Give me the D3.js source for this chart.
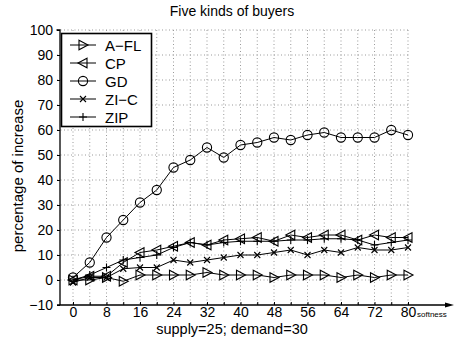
<!DOCTYPE html>
<html>
<head>
<meta charset="utf-8">
<script src="https://cdn.jsdelivr.net/npm/d3@7"></script>
<style>
  html, body { margin: 0; padding: 0; background: #fff; }
  svg { display: block; font-family: "Liberation Sans", Arial, sans-serif; }
</style>
</head>
<body>
<svg id="chart" width="454" height="343"></svg>
<script>
// Softness levels (x) and percentage of increase for each buyer type
const softness = [0, 4, 8, 12, 16, 20, 24, 28, 32, 36, 40, 44, 48, 52, 56, 60, 64, 68, 72, 76, 80];
const afl = [0, 0, 1, -0.5, 2, 2, 2, 2, 3, 2, 2, 2, 1, 2, 2, 2, 1, 2, 1, 2, 2];
const cp  = [0, 1.5, 1.5, 7, 11, 12, 13.5, 15, 14, 16, 16.5, 17, 15.5, 18, 17, 18, 18, 16, 18, 17, 17];
const gd  = [1, 7, 17, 24, 31, 36, 45, 48, 53, 49, 54, 55, 57, 56, 58, 59, 57, 57, 57, 60, 58];
const zic = [-1, 1, 1, 4.5, 5, 5, 8, 7, 8, 9, 10, 10, 11, 12, 10, 12, 11, 13, 12, 12, 13];
const zip = [0, 2, 5, 8, 9, 10, 13, 15, 14, 15, 15.5, 15.5, 15.5, 16, 16, 16.5, 16.5, 16, 14, 15, 16];

const seriesNames = ["A\u2212FL", "CP", "GD", "ZI\u2212C", "ZIP"];
const seriesValues = [afl, cp, gd, zic, zip];
const seriesMarkers = ["triRight", "triLeft", "circle", "x", "plus"];

const xTicks = [0, 8, 16, 24, 32, 40, 48, 56, 64, 72, 80];
const xGrid = d3.range(0, 81, 4);
const yTicks = [-10, 0, 10, 20, 30, 40, 50, 60, 70, 80, 90, 100];

const svg = d3.select("#chart");
const x = d3.scaleLinear().domain([0, 80]).range([73, 408]);
const y = d3.scaleLinear().domain([-10, 100]).range([305, 30]);
const axisLeftX = 57;

// Dotted grid
const grid = svg.append("g").attr("stroke", "#9a9a9a").attr("stroke-width", 1)
  .attr("stroke-dasharray", "1,2.5");
grid.selectAll("line.v").data(xGrid).join("line")
  .attr("x1", d => x(d)).attr("x2", d => x(d))
  .attr("y1", y(100)).attr("y2", y(-10));
grid.selectAll("line.h").data(yTicks.filter(d => d > -10)).join("line")
  .attr("x1", axisLeftX).attr("x2", x(80))
  .attr("y1", d => y(d)).attr("y2", d => y(d));

// Left axis with inward ticks
const yAxis = d3.axisLeft(y).tickValues(yTicks).tickSize(-3).tickPadding(4)
  .tickFormat(d => d < 0 ? "\u2212" + Math.abs(d) : d);
const gy = svg.append("g").attr("transform", `translate(${axisLeftX},0)`).call(yAxis);
gy.select(".domain").attr("d", `M-0.5,${y(100)}H3V${y(-10)}`).attr("stroke-width", 1.3);
gy.selectAll("text").attr("font-size", 14).attr("fill", "#000");

// Bottom axis with arrow
const xAxis = d3.axisBottom(x).tickValues(xGrid).tickSize(-3).tickPadding(2)
  .tickFormat(d => xTicks.includes(d) ? d : "");
const gx = svg.append("g").attr("transform", `translate(0,${y(-10)})`).call(xAxis);
gx.select(".domain").attr("d", `M${axisLeftX},0H447`).attr("stroke-width", 1.3);
gx.selectAll("text").attr("font-size", 14).attr("fill", "#000");
svg.append("path").attr("d", `M454,${y(-10)}L445,${y(-10) - 2.5}L445,${y(-10) + 2.5}Z`).attr("fill", "#000");

// Marker shapes
function marker(sel, kind) {
  const p = {
    triRight: "M-4,-4.8L5,0L-4,4.8Z",
    triLeft: "M4,-4.8L-5,0L4,4.8Z",
    circle: "M4.6,0A4.6,4.6 0 1,1 -4.6,0A4.6,4.6 0 1,1 4.6,0Z",
    x: "M-3,-3L3,3M-3,3L3,-3",
    plus: "M-4,0H4M0,-4V4"
  }[kind];
  sel.append("path").attr("d", p).attr("fill", "none").attr("stroke", "#000").attr("stroke-width", 1.1);
}

// Series lines and markers
const line = d3.line().x((d, i) => x(softness[i])).y(d => y(d));
seriesValues.forEach((vals, k) => {
  const g = svg.append("g");
  g.append("path").datum(vals).attr("d", line)
    .attr("fill", "none").attr("stroke", "#000").attr("stroke-width", 1);
  vals.forEach((v, i) => {
    const m = g.append("g").attr("transform", `translate(${x(softness[i])},${y(v)})`);
    marker(m, seriesMarkers[k]);
  });
});

// Legend
const lg = svg.append("g");
lg.append("rect").attr("x", 61.5).attr("y", 33.5).attr("width", 90).attr("height", 93)
  .attr("fill", "#fff").attr("stroke", "#000").attr("stroke-width", 1.6);
seriesNames.forEach((name, k) => {
  const cy = 45 + k * 18;
  lg.append("line").attr("x1", 70).attr("x2", 96).attr("y1", cy).attr("y2", cy)
    .attr("stroke", "#000").attr("stroke-width", 1);
  marker(lg.append("g").attr("transform", `translate(83,${cy})`), seriesMarkers[k]);
  lg.append("text").attr("x", 105).attr("y", cy + 5.5).attr("font-size", 15).text(name);
});

// Titles
svg.append("text").attr("x", 232).attr("y", 16).attr("text-anchor", "middle")
  .attr("font-size", 14).text("Five kinds of buyers");
svg.append("text").attr("transform", "translate(23,176) rotate(-90)").attr("text-anchor", "middle")
  .attr("font-size", 15).text("percentage of increase");
svg.append("text").attr("x", 232).attr("y", 334).attr("text-anchor", "middle")
  .attr("font-size", 14.5).text("supply=25; demand=30");
svg.append("text").attr("x", 417).attr("y", 317).attr("font-size", 8).text("softness");
</script>
</body>
</html>
